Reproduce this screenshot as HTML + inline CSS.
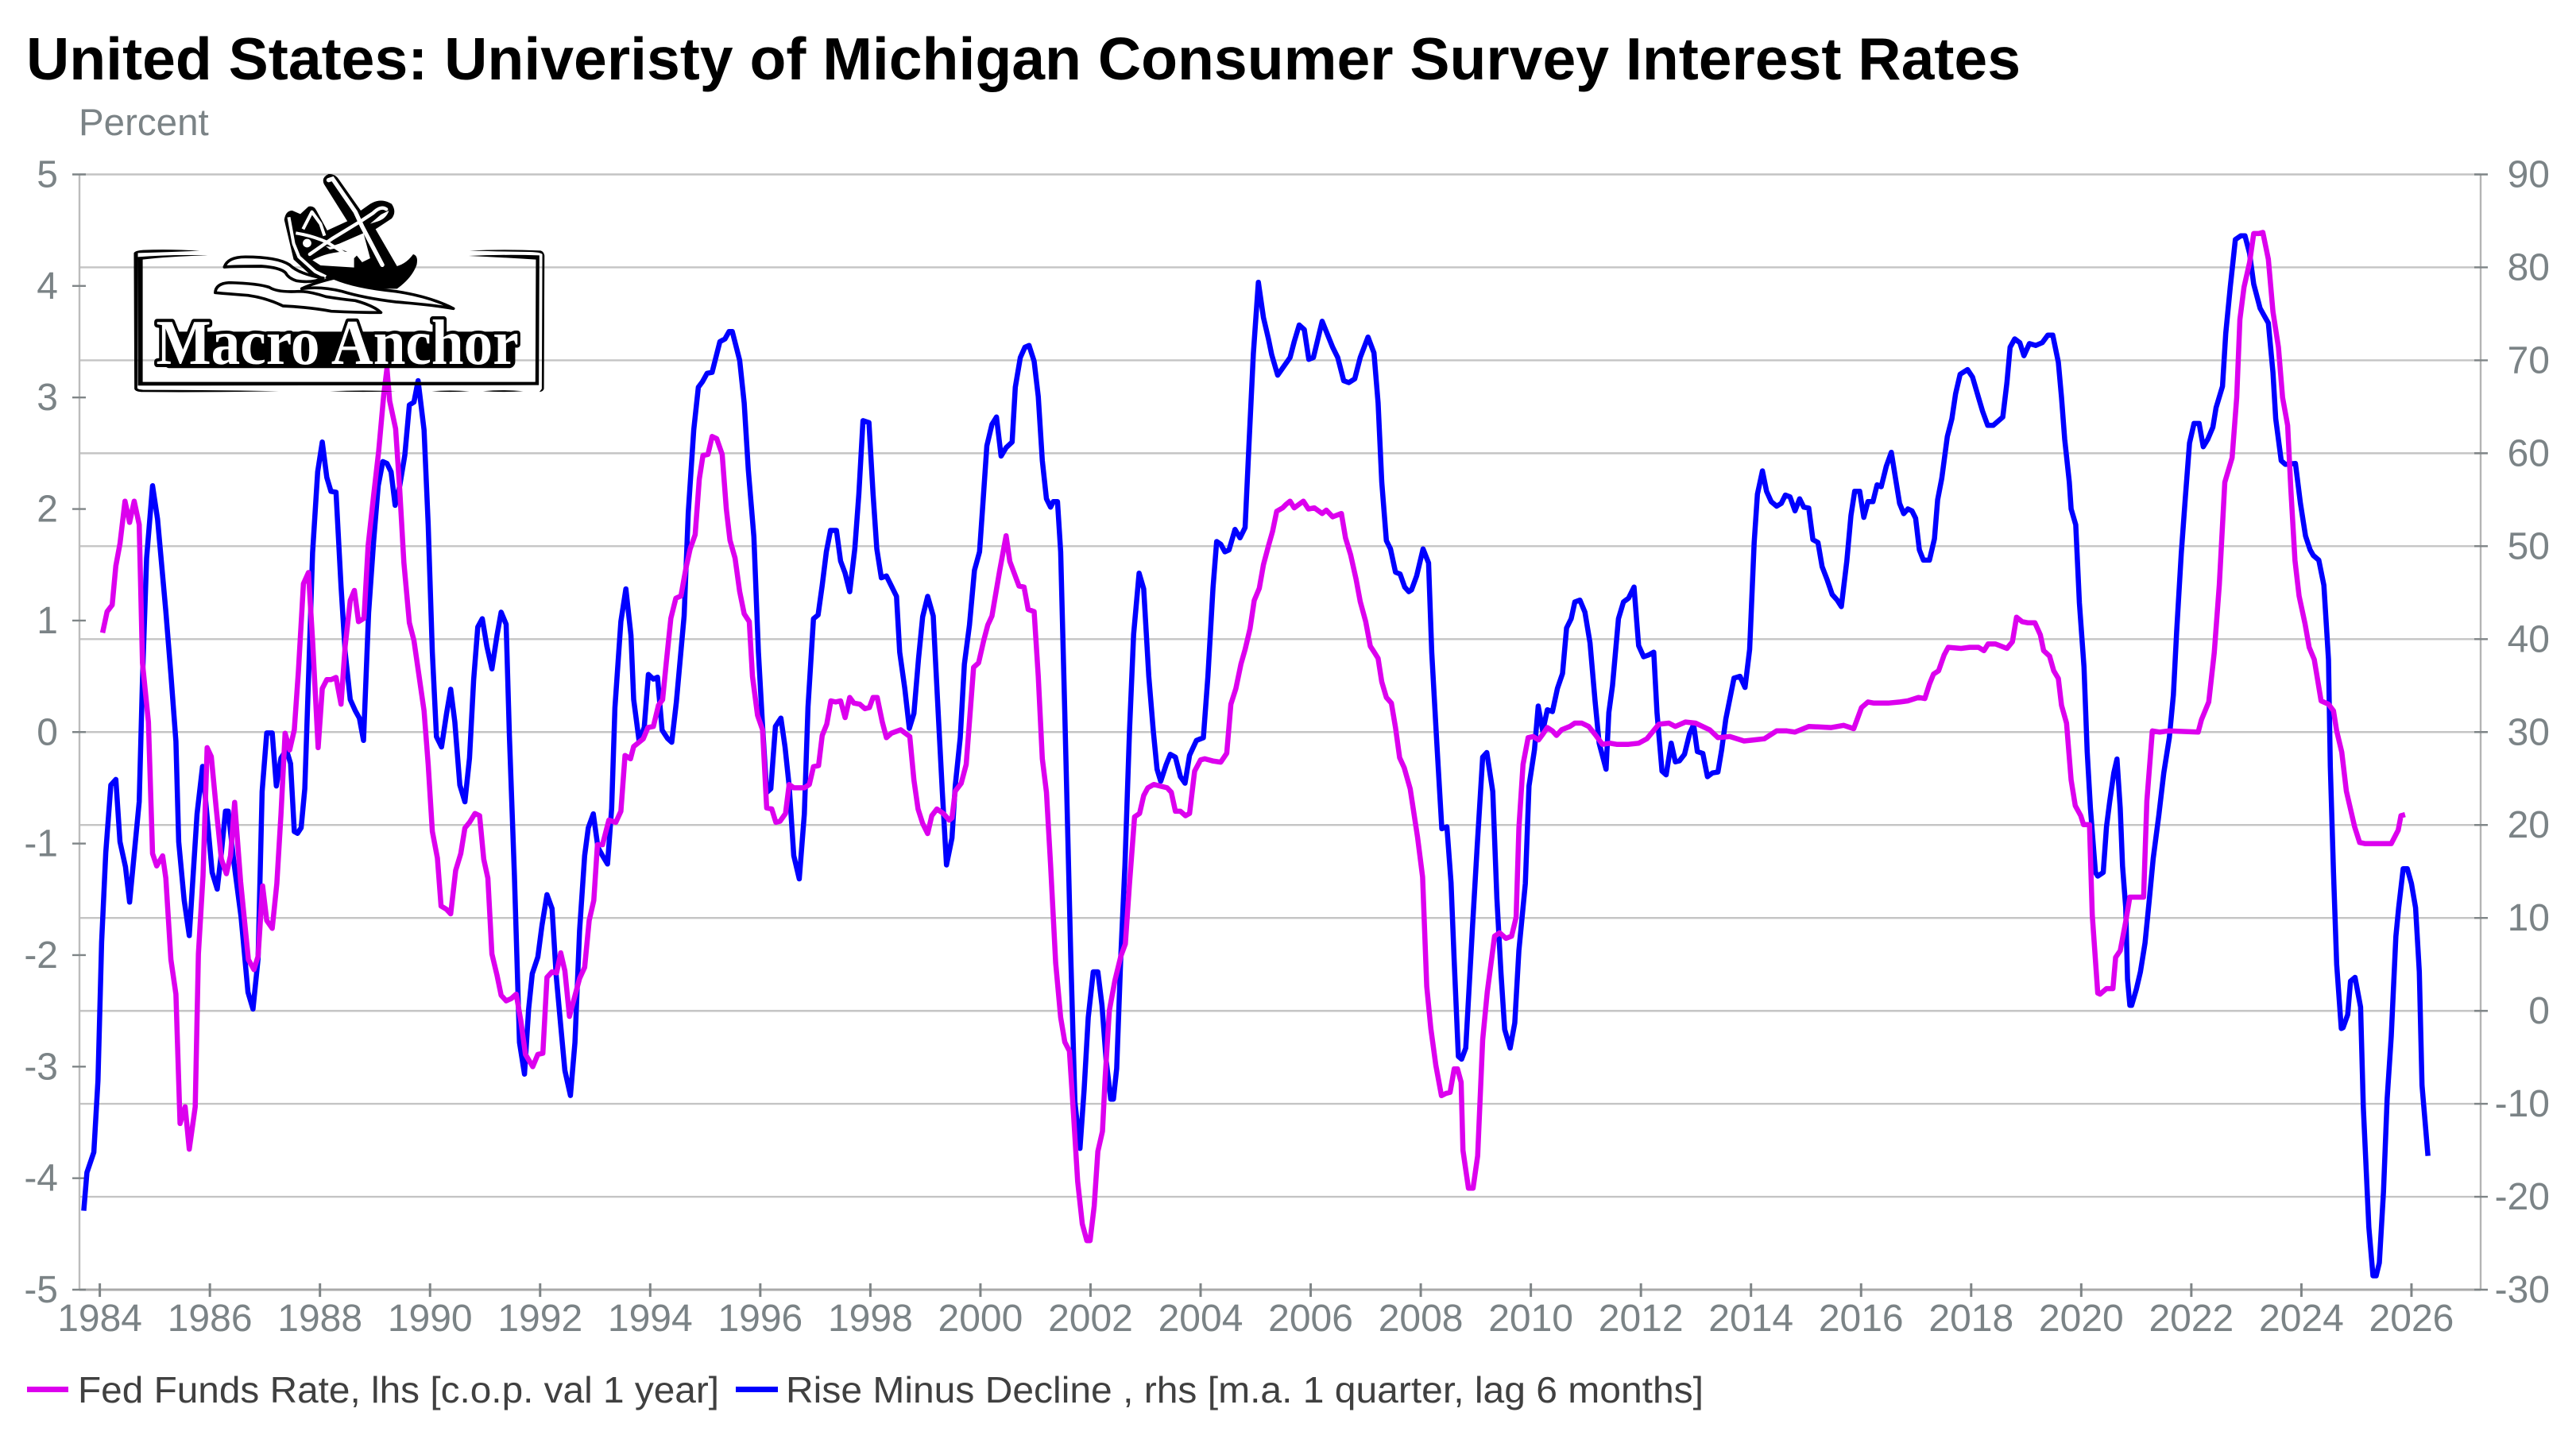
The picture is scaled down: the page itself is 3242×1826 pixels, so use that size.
<!DOCTYPE html>
<html lang="en">
<head>
<meta charset="utf-8">
<title>United States: Univeristy of Michigan Consumer Survey Interest Rates</title>
<style>
html,body{margin:0;padding:0;background:#fff;width:3242px;height:1826px;overflow:hidden}
svg{display:block;font-family:"Liberation Sans",Arial,sans-serif}
</style>
</head>
<body>
<svg id="chart" xmlns="http://www.w3.org/2000/svg" width="3242" height="1826" viewBox="0 0 3242 1826">
  <rect width="3242" height="1826" fill="#fff"/>
  <text x="33" y="100" font-size="75" font-weight="700" fill="#000" textLength="2510" lengthAdjust="spacingAndGlyphs">United States: Univeristy of Michigan Consumer Survey Interest Rates</text>
  <text x="99" y="170" font-size="47.5" fill="#7b8386">Percent</text>
  <g id="gridLayer"></g>
  <g id="axisLayer"></g>
  <g id="seriesLayer"></g>
  <g id="logo" transform="translate(160 210) scale(0.338 0.3333)">
    <g>
      <path fill="#000" d="M25 325Q30 316 60 314Q160 310 270 317Q160 322 40 325L38 835Q38 840 60 842Q300 842 565 847Q300 852 60 850Q30 850 27 838Z"/>
      <path fill="#000" d="M300 334Q160 338 58 350L58 812L1520 812L1522 350Q1400 342 1272 336Q1400 330 1535 334L1533 824L40 826L40 340Q160 330 300 334Z"/>
      <path fill="#000" d="M1275 316Q1400 310 1540 316Q1552 320 1554 335L1552 838Q1550 848 1535 850L1544 838L1546 330Q1540 322 1500 321Q1400 320 1275 316Z"/>
      <path fill="#000" d="M755 847Q880 842 1000 847Q880 852 755 847ZM1135 847Q1200 842 1275 847Q1200 852 1135 847ZM1325 847Q1400 840 1475 847Q1400 852 1325 847Z"/>
    </g>
    <g>
      <path fill="#000" d="M585 200Q590 165 615 165L645 178L675 150Q695 145 705 165L745 240L820 205L733 65Q722 40 750 27Q775 25 790 50L870 165L905 140Q945 115 985 140Q1005 170 985 195L925 235L1005 375Q1040 365 1065 330Q1085 335 1078 370Q1060 420 1005 460L880 460L770 425L690 415L620 350Z"/>
      <path fill="none" stroke="#fff" stroke-width="16" stroke-linecap="round" d="M750 50L765 45L850 170L875 225L950 370"/>
      <path fill="none" stroke="#fff" stroke-width="13" stroke-linecap="round" d="M965 160Q945 145 915 175L870 205L765 270L680 330"/>
      <path fill="#fff" d="M905 215L945 180L975 165Q965 195 935 205Z"/>
      <path fill="none" stroke="#fff" stroke-width="12" stroke-linejoin="round" d="M602 190L620 290L640 340L700 395L740 415M628 250Q690 260 745 285L830 340M655 235L688 170L720 215L735 260"/>
      <path fill="#fff" d="M880 250L905 345L875 360L855 335L845 345V380L720 372L690 352Q750 320 820 320L760 300L790 290ZM740 300L790 305L755 312Z"/>
      <circle cx="670" cy="288" r="16" fill="#fff"/>
    </g>
    <g fill="#fff" stroke="#000" stroke-width="11" stroke-linejoin="round">
      <path d="M362 378Q375 340 440 340Q560 340 605 370Q640 405 730 420Q690 440 630 430Q600 420 590 400Q570 380 500 375Q400 375 362 378Z"/>
      <path d="M328 475Q330 440 380 437Q490 440 530 455Q560 475 640 470Q680 470 740 490Q800 500 850 505Q920 525 945 550Q860 550 760 545Q680 530 580 525Q520 495 450 485Q380 480 328 475Z"/>
      <path d="M770 420Q850 455 1000 470Q1130 490 1215 535Q1130 520 1000 510Q880 495 800 470Q720 450 650 460Q690 440 770 420Z"/>
    </g>
    <rect x="135" y="622" width="1310" height="138" rx="24" fill="#000"/>
    <text x="108" y="744" font-family="'Liberation Serif',serif" font-weight="700" font-size="240" fill="#fff" stroke="#000" stroke-width="24" paint-order="stroke" stroke-linejoin="round" textLength="1350" lengthAdjust="spacingAndGlyphs">Macro Anchor</text>
  </g>
  <g>
    <g>
      <rect x="34" y="1745" width="52" height="7" fill="#dc00ee"/>
      <text x="98" y="1765" font-size="46" fill="#404040" textLength="807" lengthAdjust="spacingAndGlyphs">Fed Funds Rate, lhs [c.o.p. val 1 year]</text>
    </g>
    <g>
      <rect x="926" y="1745" width="53" height="7" fill="#0000ff"/>
      <text x="989" y="1765" font-size="46" fill="#404040" textLength="1155" lengthAdjust="spacingAndGlyphs">Rise Minus Decline , rhs [m.a. 1 quarter, lag 6 months]</text>
    </g>
  </g>
</svg>
<script>
// Axis tick labels
const leftTicks = [5,4,3,2,1,0,-1,-2,-3,-4,-5];
const rightTicks = [90,80,70,60,50,40,30,20,10,0,-10,-20,-30];
const yearTicks = [1984,1986,1988,1990,1992,1994,1996,1998,2000,2002,2004,2006,2008,2010,2012,2014,2016,2018,2020,2022,2024,2026];

// Fed Funds Rate, lhs: months since Jan 1984 and percentage values
const fedMonths = [0.6,1.6,2.7,3.5,4.4,5.5,6.5,7.5,8.6,9.3,10.6,11.5,12.4,13.7,14.4,15.5,16.6,17.5,18.6,19.5,20.8,21.5,22.5,23.4,24.3,25.4,26.5,27.6,28.5,29.4,30.7,32.4,33.6,34.5,35.5,36.4,37.6,38.6,39.5,40.4,41.4,42.4,43.3,44.4,45.5,46.4,47.6,48.5,49.5,50.4,51.5,52.6,53.5,54.6,55.5,56.4,57.6,58.5,59.7,60.8,61.9,62.6,63.2,64.5,65.4,66.3,67.5,68.5,70.7,71.6,72.5,73.6,74.4,75.6,76.5,77.6,78.7,79.6,80.6,81.8,82.8,83.7,84.6,85.5,86.6,87.5,88.6,89.7,90.8,91.8,92.8,94.4,95.5,96.6,97.5,98.6,99.6,100.5,101.4,102.4,103.3,104.6,105.7,106.7,107.7,108.5,109.6,111,112.5,113.6,114.5,115.7,116.4,118.5,119.5,120.7,121.8,122.7,123.5,124.5,125.6,126.7,127.8,128.7,129.8,130.7,131.5,132.6,133.5,134.5,135.7,136.6,137.4,138.5,139.5,140.5,141.6,142.3,143.4,144.5,145.4,146.5,147.4,148.3,149.5,150.3,151.3,152.3,153.6,154.7,155.6,156.7,157.5,158.5,159.4,160.4,161.5,162.5,163.5,164.4,165.7,166.8,167.8,168.6,169.5,170.6,171.5,172.6,174.6,176.6,177.5,178.4,179.4,180.5,181.4,182.5,183.9,185.2,185.8,186.5,187.8,188.9,190.5,191.6,192.7,193.6,194.5,196.2,197.6,198.4,200.4,201.5,202.4,203.7,204.6,205.5,206.4,207.3,208.4,209.5,210.4,211.4,212.3,213.2,214.2,215.2,215.9,216.8,217.6,218.6,219.2,220.1,221.3,222.6,223.6,224.5,225.6,226.7,227.6,228.5,229.8,232.7,233.6,234.5,235.6,236.7,237.6,238.7,240,240.9,242.7,244.4,245.7,246.6,247.7,248.8,249.7,250.8,251.7,252.8,253.7,254.8,255.7,256.6,257.9,258.6,259.5,260.4,262.4,263.5,264.8,266.5,267.4,268.8,270.7,271.6,272.7,273.9,274.8,276,277,277.8,278.7,279.5,280.5,281.6,282.5,283.4,284.4,285.7,287.3,288.4,289.3,290.2,291.3,292.5,293.5,294.4,295.3,296,296.8,297.2,298.4,299.4,300.4,301.5,302.5,304.1,305.2,306.6,307.8,308.8,309.4,310.3,311.4,312.5,313.7,314.6,315.6,316.7,317.6,318.7,320.5,321.6,323.1,324.6,326,327.6,329.3,330.7,333.3,335.5,337.3,339.9,342.1,343.5,345.7,347.9,351,352.8,355.4,358.5,360.7,362.9,365.6,367.8,369.6,372.6,377.5,380.2,382.4,384.1,385.5,386.8,389.9,392.5,394.2,396.5,397.9,398.9,399.8,400.9,402.1,403,405.8,407.7,409.6,410.8,411.7,413.3,415.8,417,417.9,419.1,420.3,421.9,423.1,423.8,425.1,426,427,427.7,428.8,429.8,430.7,431.9,432.5,433.8,434.4,435.6,436.1,437.5,438.9,439.5,440.5,441.7,442.6,444.5,445.6,446.3,447.5,449.1,451,457.5,458.2,459.8,461,462.1,463.3,464.9,465.9,466.6,467.5,468.7,469.6,470.7,471.6,472.8,473.8,475,475.9,477,477.7,478.6,479.5,480.8,481.7,482.8,484.3,485.9,487,487.7,488.8,489.8,490.7,491.6,492.7,493.8,499.6,501.1,501.7,502.6];
const fedValues = [0.89,1.08,1.14,1.49,1.69,2.07,1.88,2.07,1.86,0.62,0.09,-1.09,-1.2,-1.11,-1.31,-2.04,-2.35,-3.51,-3.36,-3.74,-3.36,-1.99,-1.29,-0.14,-0.22,-0.69,-1.14,-1.27,-1.11,-0.63,-1.34,-2.04,-2.13,-2.01,-1.38,-1.69,-1.76,-1.36,-0.74,-0.01,-0.16,0.02,0.54,1.33,1.43,0.82,-0.14,0.39,0.47,0.47,0.49,0.25,0.77,1.18,1.27,0.99,1.02,1.67,2.12,2.52,3.02,3.26,2.97,2.72,2.17,1.52,0.98,0.82,0.19,-0.29,-0.89,-1.13,-1.56,-1.59,-1.63,-1.24,-1.09,-0.86,-0.81,-0.73,-0.75,-1.14,-1.31,-1.99,-2.18,-2.36,-2.41,-2.39,-2.35,-2.59,-2.89,-3,-2.89,-2.88,-2.2,-2.15,-2.16,-1.98,-2.14,-2.55,-2.41,-2.21,-2.11,-1.69,-1.51,-1.01,-1.01,-0.79,-0.81,-0.71,-0.21,-0.24,-0.13,-0.06,0.04,0.05,0.24,0.29,0.62,1.02,1.2,1.22,1.47,1.64,1.77,2.27,2.48,2.49,2.65,2.63,2.49,2,1.72,1.56,1.26,1.06,0.99,0.5,0.15,0.02,-0.68,-0.69,-0.81,-0.8,-0.73,-0.47,-0.5,-0.5,-0.5,-0.47,-0.31,-0.3,-0.03,0.07,0.28,0.27,0.28,0.13,0.31,0.26,0.25,0.21,0.22,0.31,0.31,0.09,-0.05,-0.01,0.02,-0.04,-0.43,-0.69,-0.82,-0.91,-0.75,-0.69,-0.73,-0.79,-0.77,-0.53,-0.46,-0.29,0.58,0.62,0.82,0.96,1.04,1.45,1.76,1.53,1.31,1.3,1.1,1.08,0.5,-0.24,-0.54,-1.19,-2.07,-2.56,-2.78,-2.86,-3.43,-4.03,-4.41,-4.56,-4.56,-4.25,-3.76,-3.58,-3.1,-2.5,-2.23,-2.01,-1.9,-1.36,-0.76,-0.73,-0.57,-0.5,-0.47,-0.5,-0.54,-0.71,-0.71,-0.75,-0.73,-0.35,-0.25,-0.24,-0.26,-0.27,-0.19,0.25,0.39,0.61,0.74,0.93,1.18,1.29,1.5,1.67,1.8,1.98,2.01,2.04,2.07,2.01,2.07,2,2.01,1.96,1.99,1.93,1.96,1.74,1.59,1.37,1.17,0.99,0.77,0.72,0.66,0.45,0.31,0.26,0.04,-0.23,-0.32,-0.51,-0.94,-1.3,-2.28,-2.66,-2.99,-3.26,-3.24,-3.23,-3.02,-3.02,-3.14,-3.75,-4.09,-4.09,-3.8,-2.76,-2.33,-1.83,-1.8,-1.85,-1.83,-1.66,-0.86,-0.29,-0.05,-0.04,-0.07,-0.02,0.04,0.01,-0.03,0.02,0.05,0.08,0.08,0.05,-0.02,-0.11,-0.1,-0.11,-0.11,-0.1,-0.06,0.07,0.08,0.05,0.09,0.08,0.02,-0.05,-0.04,-0.08,-0.07,-0.06,0.01,0.01,0,0.05,0.04,0.06,0.03,0.22,0.27,0.26,0.26,0.27,0.28,0.31,0.3,0.43,0.52,0.55,0.69,0.76,0.75,0.76,0.76,0.73,0.79,0.79,0.75,0.81,1.03,0.99,0.98,0.98,0.87,0.73,0.68,0.55,0.48,0.24,0.08,-0.43,-0.66,-0.75,-0.83,-0.83,-1.64,-2.34,-2.35,-2.3,-2.3,-2.02,-1.96,-1.7,-1.48,-1.48,-1.48,-0.62,0.01,0,0.01,0,0.11,0.27,0.71,1.32,2.24,2.46,3,3.7,3.99,4.21,4.47,4.47,4.48,4.24,3.77,3.45,3,2.75,2.18,1.54,1.22,0.97,0.76,0.65,0.28,0.25,0.19,0.01,-0.18,-0.53,-0.69,-0.85,-0.99,-1,-1,-0.88,-0.75,-0.74];

// Rise Minus Decline, rhs: months since Jan 1984 and net-percent values
const riseMonths = [-3.5,-2.8,-1.3,-0.4,0.4,1.3,2.4,3.5,4.4,5.6,6.5,8.6,9.3,10.2,11.5,12.6,14.4,15.5,16.6,17.2,18.4,19.5,21.2,22.4,24.5,25.6,26.5,27.4,28,29.2,30.8,32.3,33.4,34.5,35.4,36.4,37.6,38.5,39.5,40.7,41.6,42.4,43.1,43.9,44.7,45.5,46.4,47.5,48.5,49.5,50.4,51.5,52.6,53.5,54.6,55.7,56.6,57.5,58.6,59.7,60.7,61.7,62.6,63.5,64.4,65.4,66.5,67.5,68.5,69.4,70.7,71.6,72.5,73.4,74.5,75.6,76.5,77.4,78.5,79.6,80.6,81.5,82.4,83.4,84.4,85.5,86.6,87.5,88.6,89.3,90.4,91.5,92.6,93.5,94.3,95.5,96.4,97.5,98.6,99.5,100.5,101.4,102.6,103.6,104.6,105.7,106.5,107.6,108.6,109.6,110.7,111.6,112.3,113.6,114.7,115.8,116.4,117.6,118.7,119.6,120.7,121.6,122.6,123.8,124.7,125.7,127.4,128.3,129.5,130.5,131.4,132.4,133.5,135.2,136.3,137.2,137.9,139.5,140.5,141.4,142.6,143.6,144.5,145.4,146.3,147.3,148.5,149.4,150.3,151.3,152.5,153.6,154.4,155.6,156.6,157.5,158.4,159.3,160.6,161.5,162.5,163.5,164.6,165.5,166.4,167.7,168.6,169.4,170.4,171.5,172.5,173.7,174.4,175.5,176.5,177.5,178.5,179.4,180.5,181.7,182.8,183.7,184.6,185.8,186.5,187.6,188.5,189.6,190.7,191.8,192.5,193.4,194.5,195.5,196.5,197.6,198.9,199.6,200.7,201.7,202.6,203.7,204.6,205.5,206.4,207.3,207.9,208.8,209.5,210.4,211.7,212.6,213.7,214.6,215.5,216.6,217.6,218.5,219.4,220.4,221,221.7,222.6,223.5,224.5,225.4,226.6,227.6,228.7,229.7,230.5,231.3,232.5,233.4,234.5,235.6,236.6,237.6,239.1,240.6,241.6,242.7,243.5,244.4,245.3,246.2,247.5,248.6,249.7,250.6,251.5,252.6,253.7,254.8,255.5,256.8,259.5,260.4,261.5,262.6,263.6,264.6,266.5,268.8,269.9,271.2,272.3,273.6,274.8,276.5,277.8,278.7,279.5,280.5,281.4,282.5,283.5,284.5,285.4,286,287.1,288.5,289.7,290.4,291.5,292.6,293.7,294.6,295.3,296.2,296.9,297.8,299.3,300.3,301.5,302.4,303.7,304.6,305.5,306.3,307.5,308.5,309.4,310.8,311.6,312.8,313.6,314.6,315.6,316.7,317.8,318.9,319.8,320.8,321.6,322.7,323.8,324.9,326,326.9,328.4,329,329.8,331.1,332.2,333.3,334.5,335.5,336.6,337.7,338.8,339.5,340.6,341.5,342.6,343.5,344.4,345.5,346.6,347.5,348.3,349.5,350.5,351.6,352.8,353.6,354.5,356.3,357.6,358.7,359.7,360.7,361.4,362.5,363.4,364.4,365.6,366.6,367.5,368.5,369.6,370.6,371.5,372.6,373.5,374.6,375.5,376.6,377.7,378.8,379.7,380.9,381.8,382.6,383.7,384.6,385.5,386.6,387.5,388.4,389.5,390.6,392.4,393.3,394.2,395.1,395.9,396.7,397.6,398.9,400,400.7,401.6,402.8,403.8,404.6,405.6,407.2,408.3,409.6,410.5,411.6,412.8,414.2,414.9,415.8,416.5,417.5,418.6,419.5,420.7,422.1,423.5,424.7,425.8,427,427.7,428.4,429.4,429.8,430.8,431.6,432.6,433.3,434,435.1,435.6,436.8,437.5,438.2,439.1,439.8,440.5,441,441.7,442.1,442.6,443,444,444.9,445.9,446.8,447.7,448.9,450,451.2,452.1,452.8,453.8,454.7,455.6,456.6,457.7,458.6,459.6,460.7,461.4,462.8,463.5,464.5,465.6,466.8,467.7,468.7,469.6,471,471.9,472.8,473.8,474.4,475.6,476.5,478.7,479.8,480.9,481.9,482.6,483.8,484.9,485.9,486.3,487,487.7,488.7,489.1,490.1,490.7,491.7,492.9,493.5,494.7,495.6,496.3,497,497.9,498.7,499.6,500.6,501.2,502.2,503.1,504,504.9,505.7,506.3,507.6];
const riseValues = [-21.5,-17.4,-15.2,-7.5,7.4,17,24.3,24.9,18.2,15.5,11.7,22.5,35.6,48.7,56.5,52.9,43,36.2,29,18.2,11.9,8.1,21.2,26.3,14.9,13.1,17,21.5,21.5,16.1,10.1,2,0.2,5.6,23.6,29.9,29.9,24.2,27.2,28.1,26.6,19.3,19.1,19.7,23.9,35.6,49.3,58,61.2,57.4,55.9,55.8,45.7,38.6,33.5,32.3,31.5,29.1,42.8,50.5,56.5,59.1,58.9,58,54.4,56.5,59.8,65.2,65.5,67.8,62.5,52.3,38.6,29.5,28.4,32,34.6,31.1,24.3,22.5,27.2,35.6,41.3,42.2,39.2,36.8,40.4,42.9,41.6,29.6,14.6,-3.4,-6.8,0.2,4,5.8,9.2,12.5,11,3.8,-1.6,-6.4,-9.1,-3.4,8.6,16.7,19.7,21.2,17.6,16.7,15.8,21.8,32.6,41.9,45.4,40.4,33.5,29,30.5,36.2,35.7,35.9,30.2,29.3,28.9,33.2,42.5,53.6,62.5,67.1,67.7,68.6,68.7,72,72.3,73.1,73.1,70,65.4,58.2,51,38.6,30.7,23.5,23.9,30.6,31.5,28.4,24.2,16.7,14.2,21.2,32.7,42.2,42.6,45.8,49.4,51.7,51.7,48.4,47.1,45.1,49.7,55.6,63.5,63.3,55.6,49.7,46.6,46.8,45.8,44.6,38.6,34.7,30.4,32,37.9,42.4,44.6,42.5,32,23.5,15.7,18.6,24.2,29.4,37.3,41.5,47.4,49.4,54.3,60.8,63.1,63.9,59.7,60.6,61.2,67.1,70.3,71.4,71.6,69.9,66.1,59.2,55.1,54.2,54.8,54.8,49.4,32,5.9,-9.8,-14.8,-8.5,-0.7,4.2,4.2,0.6,-5.3,-9.5,-9.5,-6.2,5.9,15.7,30.1,40.5,47.1,45.4,36,30.1,26,24.7,26.5,27.6,27.3,25.2,24.5,27.5,29.1,29.4,36,45.5,50.5,50.2,49.4,49.6,51.8,50.9,52,61.5,70.7,78.4,74.6,72.3,70.6,68.4,70.3,72,73.8,73.3,70.1,70.3,74.2,71.4,70.3,67.8,67.6,68,70.3,72.5,70.8,65.4,56.9,50.6,49.7,47.2,47,45.6,45.1,45.3,46.8,49.7,48.2,38.6,28.8,19.6,19.8,13.8,5.3,-4.9,-5.2,-4,9.2,17.7,27.3,27.8,23.6,12.1,4,-2,-4,-1.3,6.5,13.7,24.2,28.1,32.8,30.1,32.4,32.2,34.7,36.3,41.2,42.2,44,44.2,42.9,39.6,33.4,28.8,26,32.1,35,42.2,44,44.4,45.6,39.3,38.1,38.3,38.6,32.1,25.8,25.4,28.8,26.8,26.9,27.6,29.8,30.8,27.9,27.7,25.2,25.6,25.7,28.1,31.4,35.8,36,34.8,38.9,50.4,55.6,58.1,55.9,54.8,54.3,54.6,55.5,55.3,53.8,55.1,54.2,54.1,50.7,50.4,47.8,46.4,44.8,44.2,43.5,48.4,53.3,55.9,55.9,53.1,54.8,54.8,56.6,56.4,58.6,60.1,54.6,53.5,54,53.8,53,49.6,48.5,48.5,50.8,55,57.3,61.8,63.7,66.4,68.5,69,68.2,66,64.5,63,63,63.6,63.9,67.6,71.4,72.3,71.9,70.5,71.8,71.6,71.9,72.7,72.7,69.8,66,61.5,56.9,54,52.3,43.9,37,27.9,21.8,14.9,14.5,14.9,19.8,22.5,25.6,27.1,21.8,15.6,11.1,3.4,0.6,0.6,2.3,4.2,7.3,11.8,16.4,21,25.6,29.4,34,40.8,49.2,55.3,61.1,63.2,63.2,60.7,61.5,62.8,64.9,67.2,72.9,77.9,83,83.4,83.4,81.5,78.2,75.6,74.8,74,68.7,63.7,59.2,58.8,58.9,54.6,51.1,49.6,49,48.5,45.8,37.8,26.3,14.9,5,-1.9,-1.8,-0.4,3.2,3.6,0.4,-10.3,-23.3,-28.5,-28.5,-27.1,-19.5,-9.5,-2.7,8,11.1,15.3,15.3,13.7,11.1,4.2,-8,-15.6];

const NS = 'http://www.w3.org/2000/svg';
const plotLeft = 100, plotRight = 3122, plotTop = 219.5, plotBottom = 1623;
const monthZeroX = 125.6, monthWidth = 5.7725;
const tickColor = '#7f8587', labelColor = '#7b8386';
const xScale = m => monthZeroX + m * monthWidth;
const yearX = y => xScale((y - 1984) * 12);
const yLeft = v => plotTop + (5 - v) / 10 * (plotBottom - plotTop);
const yRight = v => plotTop + (90 - v) / 120 * (plotBottom - plotTop);

const gridLayer = document.getElementById('gridLayer');
const axisLayer = document.getElementById('axisLayer');
const seriesLayer = document.getElementById('seriesLayer');

function svgEl(tag, attrs, parent) {
  const el = document.createElementNS(NS, tag);
  for (const k in attrs) el.setAttribute(k, attrs[k]);
  parent.appendChild(el);
  return el;
}

rightTicks.forEach(v => {
  const y = yRight(v);
  const g = svgEl('line', {x1: plotLeft, x2: plotRight, y1: y, y2: y, stroke: '#c4c4c4', 'stroke-width': 2.4}, gridLayer);
  
  
});

const leftAxis = svgEl('line', {x1: plotLeft, x2: plotLeft, y1: plotTop, y2: plotBottom, stroke: '#bcbcbc', 'stroke-width': 2.4}, axisLayer);


const rightAxis = svgEl('line', {x1: plotRight, x2: plotRight, y1: plotTop, y2: plotBottom, stroke: '#b4b4b4', 'stroke-width': 2.4}, axisLayer);


const bottomAxis = svgEl('line', {x1: plotLeft, x2: plotRight, y1: plotBottom, y2: plotBottom, stroke: '#aaaaaa', 'stroke-width': 3}, axisLayer);



leftTicks.forEach(v => {
  const y = yLeft(v);
  const t = svgEl('line', {x1: 91, x2: 108, y1: y, y2: y, stroke: tickColor, 'stroke-width': 2.4}, axisLayer);
  
  
  const l = svgEl('text', {x: 73, y: y + 16, 'font-size': 48, fill: labelColor, 'text-anchor': 'end'}, axisLayer);
  
  
  l.textContent = v;
});

rightTicks.forEach(v => {
  const y = yRight(v);
  const t = svgEl('line', {x1: 3114, x2: 3131, y1: y, y2: y, stroke: tickColor, 'stroke-width': 2.4}, axisLayer);
  
  
  const l = svgEl('text', {x: 3209, y: y + 16, 'font-size': 48, fill: labelColor, 'text-anchor': 'end'}, axisLayer);
  
  
  l.textContent = v;
});

yearTicks.forEach(yr => {
  const x = yearX(yr);
  const t = svgEl('line', {x1: x, x2: x, y1: 1615, y2: 1632, stroke: tickColor, 'stroke-width': 3}, axisLayer);
  
  
  const l = svgEl('text', {x: x, y: 1675, 'font-size': 48, fill: labelColor, 'text-anchor': 'middle'}, axisLayer);
  
  
  l.textContent = yr;
});

function linePath(months, values, yFn) {
  return months.map((m, i) => (i ? 'L' : 'M') + xScale(m).toFixed(1) + ' ' + yFn(values[i]).toFixed(1)).join('');
}

const riseLine = svgEl('path', {d: linePath(riseMonths, riseValues, yRight), fill: 'none', stroke: '#0000ff', 'stroke-width': 6.5, 'stroke-linejoin': 'round'}, seriesLayer);


const fedLine = svgEl('path', {d: linePath(fedMonths, fedValues, yLeft), fill: 'none', stroke: '#dc00ee', 'stroke-width': 6.5, 'stroke-linejoin': 'round'}, seriesLayer);


</script>
</body>
</html>
